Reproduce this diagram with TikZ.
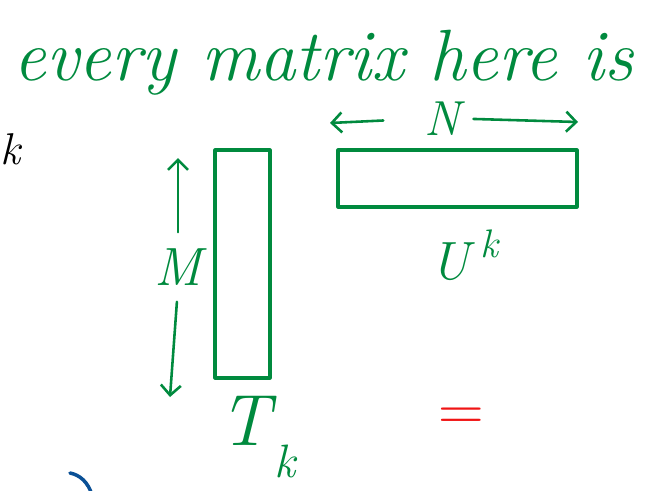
\documentclass[tikz,border=0pt]{standalone}
\usepackage{tikz}
\usetikzlibrary{positioning,arrows.meta}

\definecolor{penGreen}{RGB}{0,138,62}
\definecolor{penRed}{RGB}{240,20,20}
\definecolor{penBlue}{RGB}{10,80,150}

\begin{document}
\begin{tikzpicture}[
    x=0.03cm, y=-0.03cm,
    ink/.style={draw=penGreen, line width=2.6pt, line cap=round, line join=round},
    tallmat/.style={ink, inner sep=0pt, minimum width=1.65cm, minimum height=6.84cm},
    widemat/.style={ink, inner sep=0pt, minimum width=7.17cm, minimum height=1.71cm},
    hand/.style={text=penGreen, inner sep=1pt},
    dimarr/.style={ink, line width=2.2pt, -{Straight Barb[length=3mm, width=6mm]}}
]
\useasboundingbox (0,0) rectangle (647,490);

% heading
\node[hand, anchor=base west, font=\itshape\fontsize{62}{62}\selectfont] (title) at (12,80) {every matrix here is};
\node[anchor=base west, inner sep=0pt, font=\itshape\fontsize{38}{38}\selectfont] (kleft) at (0,164) {k};

% the two matrices
\node[tallmat] (T) at (242.5,264) {};
\node[widemat] (U) at (457.5,178.5) {};

\node[hand, font=\itshape\fontsize{62}{62}\selectfont, below=0.45cm of T, xshift=0.45cm] (Tlab) {T\hspace{0.05em}\raisebox{-0.45em}{\fontsize{40}{40}\selectfont k}};
\node[hand, font=\itshape\fontsize{46}{46}\selectfont, below=0.6cm of U, xshift=0.2cm] (Ulab) {U\hspace{0.2em}\raisebox{0.4em}{\fontsize{34}{34}\selectfont k}};

% sizes
\node[hand, font=\itshape\fontsize{42}{42}\selectfont, above=0.35cm of U, xshift=-0.45cm] (N) {N};
\coordinate (Nleft) at (330,123);
\coordinate (Nright) at (578,122);
\draw[dimarr, shorten <=1.2cm] (N.west) -- (Nleft);
\draw[dimarr, shorten <=0.35cm] (N.east) -- (Nright);

\node[hand, font=\itshape\fontsize{46}{46}\selectfont] (M) at (178,267) {M};
\coordinate (Mtop) at (178,158);
\coordinate (Mbot) at (170,397);
\draw[dimarr, shorten <=0.45cm] (M.north) -- (Mtop);
\draw[dimarr, shorten <=0.45cm] (M.south) -- (Mbot);

\node[text=penRed, font=\fontsize{54}{54}\selectfont] (eq) at (461,419) {=};

% stray blue stroke
\draw[penBlue, line width=3pt, line cap=round] (70,473) .. controls (80,475) and (88,482) .. (92,495);
\end{tikzpicture}
\end{document}
